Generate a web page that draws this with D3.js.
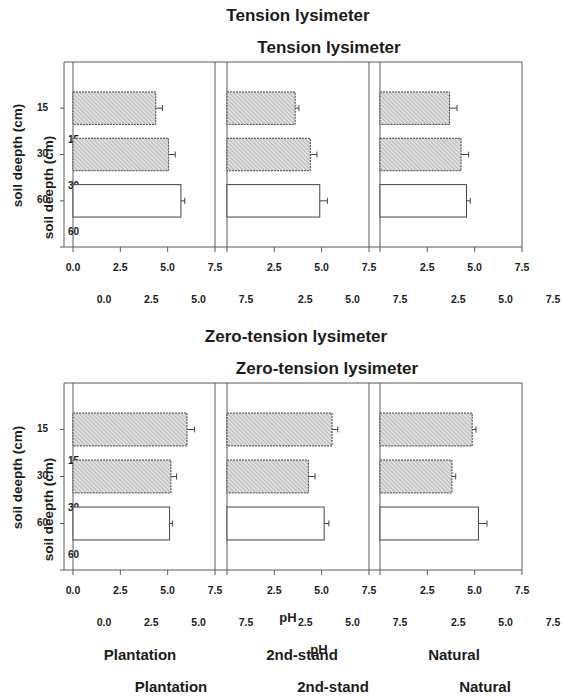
<!DOCTYPE html>
<html>
<head>
<meta charset="utf-8">
<script src="https://cdn.jsdelivr.net/npm/d3@7"></script>
<style>
  body { margin: 0; background: #fff; }
  text { font-family: "Liberation Sans", Arial, sans-serif; font-weight: bold; fill: #1c1c1c; }
</style>
</head>
<body>
<div id="chart"></div>
<script>
// data
var sites = ["Plantation", "2nd-stand", "Natural"];
var depths = ["15", "30", "60"];
var xTicks = [0, 2.5, 5, 7.5];

var tensionPH  = [[4.37, 5.05, 5.70], [3.60, 4.40, 4.90], [3.67, 4.28, 4.57]];
var tensionErr = [[0.35, 0.35, 0.20], [0.20, 0.35, 0.40], [0.40, 0.40, 0.20]];
var zeroPH     = [[6.02, 5.17, 5.10], [5.55, 4.30, 5.13], [4.87, 3.80, 5.20]];
var zeroErr    = [[0.40, 0.30, 0.15], [0.30, 0.35, 0.25], [0.20, 0.20, 0.45]];

var groups = [
  { title: "Tension lysimeter", ph: tensionPH, err: tensionErr, top: 62, bottom: 247, tx: 298 },
  { title: "Zero-tension lysimeter", ph: zeroPH, err: zeroErr, top: 383, bottom: 570, tx: 296 }
];

var width = 563, height = 696;
var panelLeft = [73, 227, 380], panelW = 142;
var axisX = 64;
// the scan carries a shifted copy of every text
var ghost = { dx: 31, dy: 32 };

var svg = d3.select("#chart").append("svg")
  .attr("width", width).attr("height", height);

var defs = svg.append("defs");
var pat = defs.append("pattern")
  .attr("id", "hatch")
  .attr("patternUnits", "userSpaceOnUse")
  .attr("width", 3).attr("height", 3)
  .attr("patternTransform", "rotate(-45)");
pat.append("rect").attr("width", 3).attr("height", 3).attr("fill", "#e0e0e0");
pat.append("line").attr("x1", 0).attr("y1", 0).attr("x2", 0).attr("y2", 3)
  .attr("stroke", "#909090").attr("stroke-width", 1);

function label(g, txt, x, y, opts) {
  opts = opts || {};
  [0, 1].forEach(function(k){
    var t = g.append("text")
      .attr("x", x + k * ghost.dx)
      .attr("y", y + k * ghost.dy)
      .attr("text-anchor", opts.anchor || "middle")
      .attr("dominant-baseline", "middle")
      .style("font-size", (opts.size || 10) + "px")
      .text(txt);
    if (opts.rotate) t.attr("transform", "rotate(-90," + (x + k * ghost.dx) + "," + (y + k * ghost.dy) + ")");
  });
}

groups.forEach(function(grp, gi){
  var g = svg.append("g");
  var top = grp.top, bottom = grp.bottom;

  var y = d3.scaleBand().domain(depths)
    .range([top + 23, bottom - 23])
    .paddingInner(0.3).paddingOuter(0.15);

  // titles
  label(g, grp.title, grp.tx, top - 45, { size: 17 });

  // frame
  var line = function(x1, y1, x2, y2){
    g.append("line").attr("x1", x1).attr("y1", y1).attr("x2", x2).attr("y2", y2)
      .attr("stroke", "#5a5a5a").attr("stroke-width", 1);
  };
  line(axisX, top, panelLeft[2] + panelW, top);
  line(axisX - 4, bottom, panelLeft[2] + panelW, bottom);
  line(axisX, top, axisX, bottom);
  panelLeft.forEach(function(px){
    line(px, top, px, bottom);
    line(px + panelW, top, px + panelW, bottom);
  });

  // y axis ticks
  depths.forEach(function(d){
    var cy = y(d) + y.bandwidth() / 2;
    line(axisX - 4, cy, axisX, cy);
    label(g, d, 48, cy, { anchor: "end", size: 10 });
  });

  label(g, "soil deepth (cm)", 18, (top + bottom) / 2 + 1, { size: 13.5, rotate: true });

  sites.forEach(function(site, si){
    var x = d3.scaleLinear().domain([0, 7.5]).range([panelLeft[si], panelLeft[si] + panelW]);

    xTicks.forEach(function(t){
      line(x(t), bottom, x(t), bottom + 5);
      if (si > 0 && t === 0) return;
      label(g, d3.format(".1f")(t), x(t), bottom + 21, { size: 10.5 });
    });

    depths.forEach(function(d, di){
      var v = grp.ph[si][di], e = grp.err[si][di];
      var by = y(d), bh = y.bandwidth(), cy = by + bh / 2;
      g.append("rect")
        .attr("x", x(0)).attr("y", by)
        .attr("width", x(v) - x(0)).attr("height", bh)
        .attr("fill", di < 2 ? "url(#hatch)" : "#fff")
        .attr("stroke", "#444").attr("stroke-width", 1)
        .attr("stroke-dasharray", di < 2 ? "2,1" : null);
      g.append("line").attr("x1", x(v)).attr("x2", x(v + e))
        .attr("y1", cy).attr("y2", cy).attr("stroke", "#444");
      g.append("line").attr("x1", x(v + e)).attr("x2", x(v + e))
        .attr("y1", cy - 3).attr("y2", cy + 3).attr("stroke", "#444");
    });
  });
});

// x axis label and site names under the bottom group
label(svg, "pH", 288, 619, { size: 13 });
sites.forEach(function(s, i){
  label(svg, s, [140, 302, 454][i], 656, { size: 15 });
});
</script>
</body>
</html>
